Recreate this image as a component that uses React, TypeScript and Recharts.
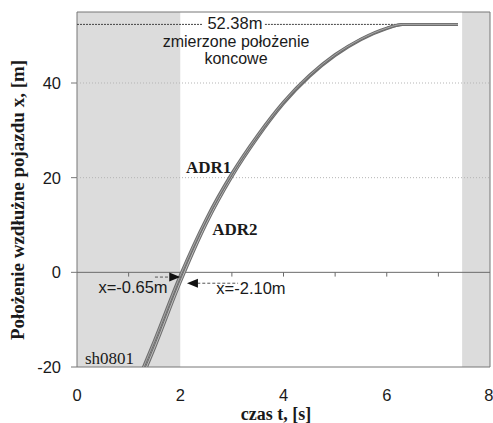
import { LineChart, Line, XAxis, YAxis, ReferenceArea, ReferenceLine, ReferenceDot } from 'recharts';

// czas [s] and position of both recorders [m]
const TIME = [1.2, 1.5, 2.0, 2.5, 3.0, 3.5, 4.0, 4.5, 5.0, 5.5, 6.0, 6.3, 7.38];
const ADR1 = [-22.3, -14.4, -0.65, 11.2, 20.9, 29.0, 36.0, 41.6, 46.0, 49.3, 51.6, 52.38, 52.38];
const ADR2 = [-23.8, -16.0, -2.1, 10.2, 20.2, 28.5, 35.65, 41.35, 45.8, 49.15, 51.5, 52.38, 52.38];

const X_TICKS = [0, 2, 4, 6, 8];
const Y_TICKS = [-20, 0, 20, 40];
const ZERO_TICKS = [1, 2, 3, 4, 5, 6, 7];
const GRID_Y = [20, 40];
const FINAL_POS = 52.38;

const data = TIME.map((t, i) => ({ t, adr1: ADR1[i], adr2: ADR2[i] }));

const SANS = '"Liberation Sans", Arial, sans-serif';
const SERIF = '"Liberation Serif", "Times New Roman", serif';

const txt = (value: string, dx: number, dy: number, opts: { anchor?: string; font?: string; size?: number; bold?: boolean } = {}) =>
  (p: any) => (
    <text
      x={p.cx + dx}
      y={p.cy + dy}
      textAnchor={opts.anchor || 'middle'}
      fontFamily={opts.font || SANS}
      fontSize={opts.size || 16.5}
      fontWeight={opts.bold ? 700 : 400}
      fill="#1a1a1a"
    >
      {value}
    </text>
  );

const arrowRight = (p: any) => (
  <polygon points={`${p.cx},${p.cy} ${p.cx - 11},${p.cy - 4.5} ${p.cx - 11},${p.cy + 4.5}`} fill="#111" />
);
const arrowLeft = (p: any) => (
  <polygon points={`${p.cx},${p.cy} ${p.cx + 11},${p.cy - 4.5} ${p.cx + 11},${p.cy + 4.5}`} fill="#111" />
);

export default function App() {
  return (
    <div style={{ position: 'absolute', left: 0, top: 0, width: 493, height: 423, background: '#fff' }}>
      <LineChart width={493} height={423} data={data} margin={{ top: 12, right: 3, bottom: 0, left: 0 }}>
        <XAxis
          dataKey="t"
          type="number"
          domain={[0, 8]}
          ticks={X_TICKS}
          allowDataOverflow
          axisLine={false}
          tickLine={false}
          tickSize={0}
          tickMargin={22}
          height={56}
          tick={{ fontSize: 16.5, fill: '#1a1a1a', fontFamily: SANS }}
        />
        <YAxis
          type="number"
          domain={[-20, 55]}
          ticks={Y_TICKS}
          allowDataOverflow
          axisLine={false}
          tickLine={{ stroke: '#777' }}
          tickSize={6}
          tickMargin={10}
          width={77}
          tick={{ fontSize: 16.5, fill: '#1a1a1a', fontFamily: SANS }}
        />

        <ReferenceArea x1={0} x2={2} y1={-20} y2={55} fill="#dcdcdc" fillOpacity={1} stroke="none" />
        <ReferenceArea x1={7.46} x2={8} y1={-20} y2={55} fill="#dcdcdc" fillOpacity={1} stroke="none" />

        {GRID_Y.map((y) => (
          <ReferenceLine key={y} y={y} stroke="#b5b5b5" strokeDasharray="1 2" />
        ))}
        <ReferenceLine y={0} stroke="#6a6a6a" />
        {ZERO_TICKS.map((t) => (
          <ReferenceLine key={t} segment={[{ x: t, y: 0 }, { x: t, y: -0.9 }]} stroke="#6a6a6a" />
        ))}

        {/* measured final position */}
        <ReferenceLine segment={[{ x: 0, y: FINAL_POS }, { x: 2.44, y: FINAL_POS }]} stroke="#444" strokeDasharray="2 1" />
        <ReferenceLine segment={[{ x: 3.64, y: FINAL_POS }, { x: 6.3, y: FINAL_POS }]} stroke="#444" strokeDasharray="2 1" />
        <ReferenceDot x={3.06} y={FINAL_POS} r={0} shape={txt('52.38m', 0, 5)} />
        <ReferenceDot x={3.08} y={FINAL_POS} r={0} shape={txt('zmierzone położenie', 0, 23, { size: 16 })} />
        <ReferenceDot x={3.08} y={FINAL_POS} r={0} shape={txt('koncowe', 0, 40, { size: 16 })} />

        <ReferenceArea x1={0} x2={8} y1={-20} y2={55} fill="none" stroke="#777" strokeWidth={1} />

        <Line type="monotone" dataKey="adr2" stroke="#6e6e6e" strokeWidth={3} dot={false} isAnimationActive={false} />
        <Line type="monotone" dataKey="adr2" stroke="#ffffff" strokeOpacity={0.7} strokeWidth={0.8} dot={false} isAnimationActive={false} />
        <Line type="monotone" dataKey="adr1" stroke="#6e6e6e" strokeWidth={3} dot={false} isAnimationActive={false} />
        <Line type="monotone" dataKey="adr1" stroke="#ffffff" strokeOpacity={0.5} strokeWidth={0.8} dot={false} isAnimationActive={false} />

        {/* arrows at t = 2 s */}
        <ReferenceLine segment={[{ x: 1.51, y: -1.0 }, { x: 1.8, y: -1.0 }]} stroke="#555" strokeDasharray="3 2" />
        <ReferenceDot x={2.0} y={-1.0} r={0} shape={arrowRight} />
        <ReferenceLine segment={[{ x: 2.33, y: -2.3 }, { x: 3.12, y: -2.3 }]} stroke="#555" strokeDasharray="3 2" />
        <ReferenceDot x={2.13} y={-2.3} r={0} shape={arrowLeft} />
        <ReferenceDot x={1.085} y={0} r={0} shape={txt('x=-0.65m', 0, 21)} />
        <ReferenceDot x={3.37} y={0} r={0} shape={txt('x=-2.10m', 0, 22)} />

        <ReferenceDot x={2.11} y={20.9} r={0} shape={txt('ADR1', 0, 0, { anchor: 'start', font: SERIF, size: 17, bold: true })} />
        <ReferenceDot x={2.62} y={7.8} r={0} shape={txt('ADR2', 0, 0, { anchor: 'start', font: SERIF, size: 17, bold: true })} />
        <ReferenceDot x={0.155} y={-19.4} r={0} shape={txt('sh0801', 0, 0, { anchor: 'start', font: SERIF, size: 17 })} />
      </LineChart>

      <svg width={493} height={423} style={{ position: 'absolute', left: 0, top: 0, pointerEvents: 'none' }}>
        <text x={276} y={420} textAnchor="middle" fontFamily={SERIF} fontWeight={700} fontSize={18} fill="#1a1a1a">
          czas t, [s]
        </text>
        <text
          x={24}
          y={200}
          transform="rotate(-90, 24, 200)"
          textAnchor="middle"
          fontFamily={SERIF}
          fontWeight={700}
          fontSize={19}
          fill="#1a1a1a"
        >
          Położenie wzdłużne pojazdu x, [m]
        </text>
      </svg>
    </div>
  );
}
